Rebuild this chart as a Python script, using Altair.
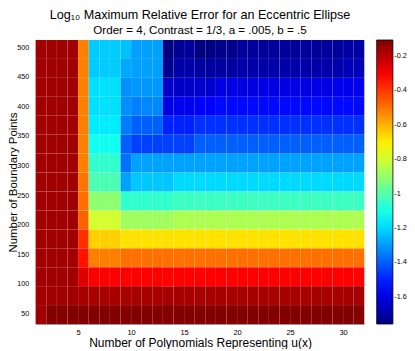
import altair as alt
import pandas as pd

# Cell edges (pcolor style): 31 columns x 15 rows
x_edges = [1, 2, 3, 4, 5, 6, 7, 8, 9, 10, 11, 12, 13, 14, 15, 16, 17, 18, 19, 20,
           21, 22, 23, 24, 25, 26, 27, 28, 29, 30, 31, 32]
y_edges = [32, 64, 96, 128, 160, 192, 224, 256, 288, 320, 352, 384, 416, 448, 480, 512]

# log10 max relative error, one list per row (bottom to top), columns 1..31
row_032 = [-0.16, -0.11, -0.11, -0.11, -0.11, -0.11, -0.11, -0.11, -0.11, -0.11, -0.11,
           -0.11, -0.11, -0.11, -0.11, -0.11, -0.11, -0.11, -0.11, -0.11, -0.11, -0.11,
           -0.11, -0.11, -0.11, -0.11, -0.11, -0.11, -0.11, -0.11, -0.11]
row_064 = [-0.16, -0.16, -0.16, -0.16, -0.17, -0.17, -0.17, -0.17, -0.17, -0.17, -0.17,
           -0.17, -0.17, -0.17, -0.17, -0.17, -0.17, -0.17, -0.17, -0.17, -0.17, -0.17,
           -0.17, -0.17, -0.17, -0.17, -0.17, -0.17, -0.17, -0.17, -0.17]
row_096 = [-0.16, -0.16, -0.16, -0.16, -0.26, -0.31, -0.31, -0.31, -0.31, -0.31, -0.31,
           -0.31, -0.31, -0.31, -0.31, -0.31, -0.31, -0.31, -0.31, -0.31, -0.31, -0.31,
           -0.31, -0.31, -0.31, -0.31, -0.31, -0.31, -0.31, -0.31, -0.31]
row_128 = [-0.16, -0.16, -0.16, -0.16, -0.34, -0.52, -0.52, -0.52, -0.495, -0.495, -0.495,
           -0.495, -0.495, -0.495, -0.495, -0.495, -0.495, -0.495, -0.495, -0.495, -0.495,
           -0.495, -0.495, -0.495, -0.495, -0.495, -0.495, -0.495, -0.495, -0.495, -0.495]
row_160 = [-0.16, -0.16, -0.16, -0.16, -0.39, -0.65, -0.65, -0.65, -0.68, -0.68, -0.68,
           -0.68, -0.68, -0.68, -0.68, -0.68, -0.68, -0.68, -0.68, -0.68, -0.68, -0.68,
           -0.68, -0.68, -0.68, -0.68, -0.68, -0.68, -0.68, -0.68, -0.68]
row_192 = [-0.16, -0.16, -0.16, -0.16, -0.47, -0.80, -0.80, -0.80, -0.88, -0.88, -0.88,
           -0.88, -0.88, -0.86, -0.86, -0.86, -0.86, -0.86, -0.86, -0.86, -0.86, -0.86,
           -0.86, -0.86, -0.86, -0.86, -0.86, -0.86, -0.86, -0.86, -0.86]
row_224 = [-0.16, -0.16, -0.16, -0.16, -0.495, -0.91, -0.91, -0.91, -1.06, -1.06, -1.06,
           -1.06, -1.06, -1.04, -1.04, -1.04, -1.04, -1.04, -1.04, -1.04, -1.04, -1.04,
           -1.04, -1.04, -1.04, -1.04, -1.04, -1.04, -1.04, -1.04, -1.04]
row_256 = [-0.16, -0.16, -0.16, -0.16, -0.50, -1.02, -1.02, -1.02, -1.29, -1.23, -1.23,
           -1.23, -1.23, -1.20, -1.20, -1.20, -1.20, -1.20, -1.20, -1.20, -1.20, -1.20,
           -1.20, -1.20, -1.20, -1.20, -1.20, -1.20, -1.20, -1.20, -1.20]
row_288 = [-0.16, -0.16, -0.16, -0.16, -0.52, -1.06, -1.06, -1.06, -1.37, -1.29, -1.29,
           -1.29, -1.29, -1.29, -1.29, -1.29, -1.29, -1.29, -1.29, -1.29, -1.29, -1.29,
           -1.29, -1.29, -1.29, -1.29, -1.29, -1.29, -1.29, -1.29, -1.29]
row_320 = [-0.16, -0.16, -0.16, -0.16, -0.52, -1.115, -1.115, -1.115, -1.40, -1.45, -1.45,
           -1.45, -1.45, -1.45, -1.45, -1.40, -1.40, -1.40, -1.40, -1.40, -1.40, -1.40,
           -1.40, -1.40, -1.40, -1.40, -1.40, -1.40, -1.40, -1.40, -1.40]
row_352 = [-0.16, -0.16, -0.16, -0.16, -0.52, -1.17, -1.17, -1.17, -1.35, -1.40, -1.40,
           -1.40, -1.50, -1.50, -1.50, -1.476, -1.476, -1.476, -1.476, -1.476, -1.476,
           -1.476, -1.476, -1.476, -1.476, -1.476, -1.476, -1.476, -1.476, -1.476, -1.476]
row_384 = [-0.16, -0.16, -0.16, -0.16, -0.52, -1.19, -1.19, -1.19, -1.32, -1.346, -1.333,
           -1.333, -1.604, -1.578, -1.578, -1.553, -1.553, -1.54, -1.54, -1.54, -1.54,
           -1.54, -1.54, -1.54, -1.54, -1.54, -1.54, -1.54, -1.54, -1.54, -1.54]
row_416 = [-0.16, -0.16, -0.16, -0.16, -0.52, -1.19, -1.19, -1.19, -1.32, -1.307, -1.307,
           -1.307, -1.642, -1.642, -1.642, -1.64, -1.64, -1.60, -1.60, -1.60, -1.60,
           -1.60, -1.60, -1.60, -1.60, -1.60, -1.60, -1.60, -1.58, -1.58, -1.58]
row_448 = [-0.16, -0.16, -0.16, -0.16, -0.52, -1.222, -1.222, -1.222, -1.28, -1.294, -1.294,
           -1.294, -1.733, -1.695, -1.695, -1.707, -1.707, -1.707, -1.707, -1.695, -1.695,
           -1.695, -1.695, -1.695, -1.695, -1.695, -1.695, -1.695, -1.695, -1.668, -1.668]
row_480 = [-0.16, -0.16, -0.16, -0.16, -0.52, -1.222, -1.222, -1.222, -1.242, -1.294, -1.294,
           -1.294, -1.76, -1.733, -1.716, -1.76, -1.76, -1.743, -1.743, -1.716, -1.716,
           -1.716, -1.716, -1.716, -1.716, -1.716, -1.716, -1.716, -1.716, -1.70, -1.70]

rows = [row_032, row_064, row_096, row_128, row_160, row_192, row_224, row_256,
        row_288, row_320, row_352, row_384, row_416, row_448, row_480]

records = []
for i, row in enumerate(rows):
    for j, v in enumerate(row):
        records.append({"x": x_edges[j], "x2": x_edges[j + 1],
                        "y": y_edges[i], "y2": y_edges[i + 1], "v": v})
df = pd.DataFrame(records)

# jet colormap
c_min, c_max = -1.76, -0.106
jet_pos = [0, 0.125, 0.375, 0.625, 0.875, 1]
jet_colors = ["#000080", "#0000ff", "#00ffff", "#ffff00", "#ff0000", "#800000"]
jet_domain = [c_min + t * (c_max - c_min) for t in jet_pos]
cbar_ticks = [-0.2, -0.4, -0.6, -0.8, -1, -1.2, -1.4, -1.6]
x_ticks = [5, 10, 15, 20, 25, 30]
y_ticks = [50, 100, 150, 200, 250, 300, 350, 400, 450, 500]

FONT = "Liberation Sans"

chart = alt.Chart(df).mark_rect(
    stroke="#ffffff", strokeOpacity=0.06, strokeWidth=0.5
).encode(
    x=alt.X("x:Q", scale=alt.Scale(domain=[1, 32], nice=False, zero=False),
            axis=alt.Axis(values=x_ticks, title="Number of Polynomials Representing u(x)",
                          grid=False, ticks=False, labelPadding=4, titlePadding=2,
                          labelFontSize=7.5, titleFontSize=12, titleFontWeight="normal",
                          labelFont=FONT, titleFont=FONT, labelColor="#000", titleColor="#000",
                          domainColor="#999", domainWidth=1)),
    x2="x2:Q",
    y=alt.Y("y:Q", scale=alt.Scale(domain=[32, 512], nice=False, zero=False),
            axis=alt.Axis(values=y_ticks, title="Number of Boundary Points",
                          grid=False, ticks=False, labelPadding=7,
                          titleX=-19, titleY=142, titleAngle=270,
                          titleAlign="center", titleBaseline="alphabetic",
                          labelFontSize=7.2, titleFontSize=11.4, titleFontWeight="normal",
                          labelFont=FONT, titleFont=FONT, labelColor="#000", titleColor="#000",
                          domainColor="#999", domainWidth=1)),
    y2="y2:Q",
    color=alt.Color("v:Q", title=None,
                    scale=alt.Scale(domain=jet_domain, range=jet_colors, interpolate="rgb"),
                    legend=alt.Legend(orient="right", offset=12.4, gradientLength=284,
                                      gradientThickness=16.2, values=cbar_ticks,
                                      labelExpr="toString(datum.value)",
                                      labelFontSize=7.3, labelFont=FONT, labelColor="#000",
                                      labelOffset=1.3, labelOverlap=False,
                                      gradientStrokeColor="#000", gradientStrokeWidth=0.8)),
).properties(
    width=328.6,
    height=284,
    title=alt.Title(text="Log₁₀ Maximum Relative Error for an Eccentric Ellipse",
                    subtitle="Order = 4, Contrast = 1/3, a = .005, b = .5",
                    fontSize=12.6, subtitleFontSize=11.6, font=FONT, subtitleFont=FONT,
                    fontWeight="normal", color="#000", subtitleColor="#000",
                    anchor="middle", offset=3.2, subtitlePadding=3.6),
    autosize=alt.AutoSizeParams(type="none"),
    padding={"left": 27.7, "top": 32, "right": 42.7, "bottom": 25},
).configure_view(stroke=None)

chart.save("out.html", embed_options={"renderer": "svg", "actions": False})
